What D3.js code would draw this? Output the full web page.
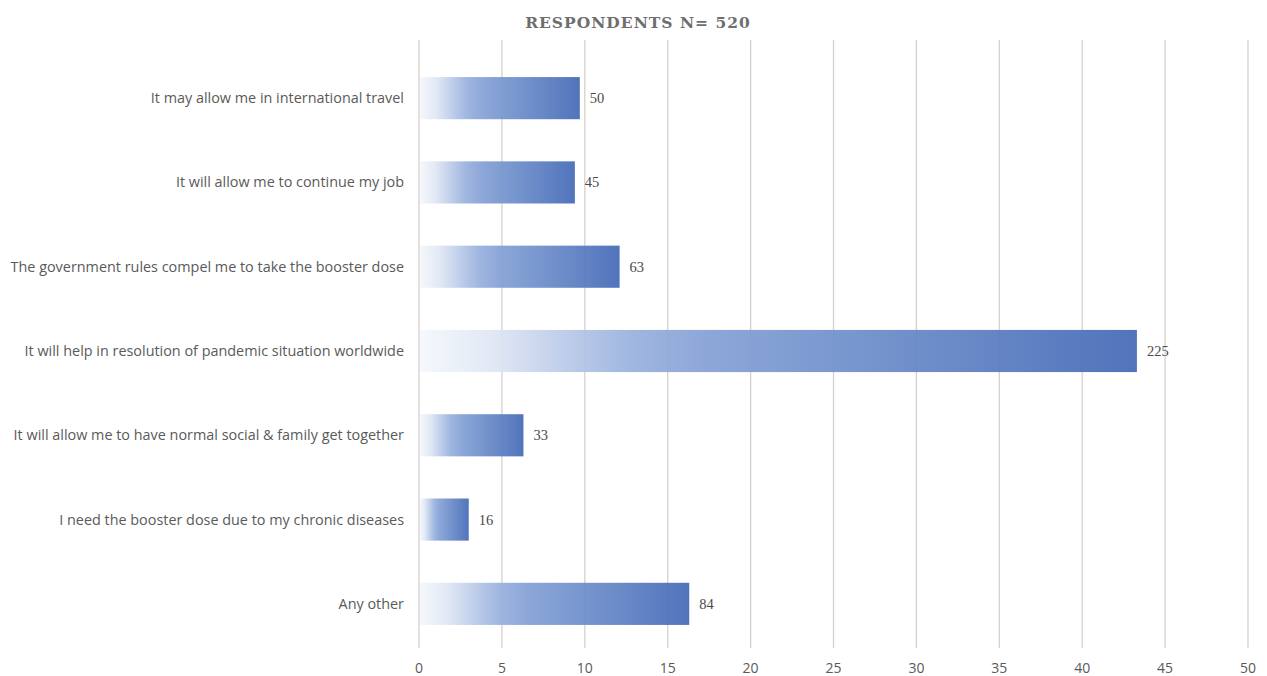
<!DOCTYPE html>
<html><head><meta charset="utf-8">
<script src="https://cdn.jsdelivr.net/npm/d3@7"></script>
<style>body{margin:0;background:#fff}</style>
</head><body>
<svg id="c" width="1267" height="676"></svg>
<script>
const categories = [
  "It may allow me in international travel",
  "It will allow me to continue my job",
  "The government rules compel me to take the booster dose",
  "It will help in resolution of pandemic situation worldwide",
  "It will allow me to have normal social & family get together",
  "I need the booster dose due to my chronic diseases",
  "Any other"
];
const counts = [50, 45, 63, 225, 33, 16, 84];
const percents = [9.7, 9.4, 12.1, 43.3, 6.3, 3.0, 16.3];
const ticks = [0,5,10,15,20,25,30,35,40,45,50];
const title = "RESPONDENTS N= 520";

const svg = d3.select("#c");
const x = d3.scaleLinear().domain([0,50]).range([419,1248]);
const y = d3.scaleBand().domain(categories).range([56,646]).paddingInner(0.5).paddingOuter(0.25);

const defs = svg.append("defs");
const g = defs.append("linearGradient").attr("id","grad").attr("x1","0").attr("x2","1").attr("y1","0").attr("y2","0");
[[0,"#f4f7fc"],[0.1,"#dfe7f4"],[0.22,"#b3c5e6"],[0.3,"#97b0dd"],[0.4,"#84a0d5"],[0.6,"#6e8fcb"],[1,"#4469b6"]].forEach(s=>{
  g.append("stop").attr("offset",s[0]).attr("stop-color",s[1]);
});

svg.append("text").attr("x",638).attr("y",28).attr("text-anchor","middle")
  .style("font-family","'DejaVu Serif','Liberation Serif',serif").style("font-weight","bold")
  .style("font-size","15.5px").style("letter-spacing","1px").style("fill","#6e6e6e").text(title);

// gridlines
svg.append("g").selectAll("line").data(ticks).join("line")
  .attr("x1",d=>x(d)).attr("x2",d=>x(d)).attr("y1",40).attr("y2",648)
  .attr("stroke","#d8d0cc").attr("stroke-width",1.3);

// bars
svg.append("g").selectAll("rect").data(categories).join("rect")
  .attr("x",x(0)+1).attr("y",d=>y(d)).attr("height",y.bandwidth())
  .attr("width",(d,i)=>x(percents[i])-x(0)-1)
  .attr("fill","url(#grad)").attr("opacity",0.93);

// value labels
svg.append("g").selectAll("text").data(categories).join("text")
  .attr("x",(d,i)=>x(percents[i])+10).attr("y",d=>y(d)+y.bandwidth()/2+5)
  .style("font-family","'Liberation Serif','DejaVu Serif',serif").style("font-size","14.5px").style("fill","#4a4a4a")
  .text((d,i)=>counts[i]);

// category labels
svg.append("g").selectAll("text").data(categories).join("text")
  .attr("x",404).attr("y",d=>y(d)+y.bandwidth()/2+5).attr("text-anchor","end")
  .style("font-family","'Open Sans','Noto Sans',sans-serif").style("font-size","14.4px").style("fill","#5a5a5a")
  .text(d=>d);

// x tick labels
svg.append("g").selectAll("text").data(ticks).join("text")
  .attr("x",d=>x(d)).attr("y",668).attr("dy","0.35em").attr("text-anchor","middle")
  .style("font-family","'Open Sans','Noto Sans',sans-serif").style("font-size","14px").style("fill","#5a5a5a")
  .text(d=>d);
</script>
</body></html>
